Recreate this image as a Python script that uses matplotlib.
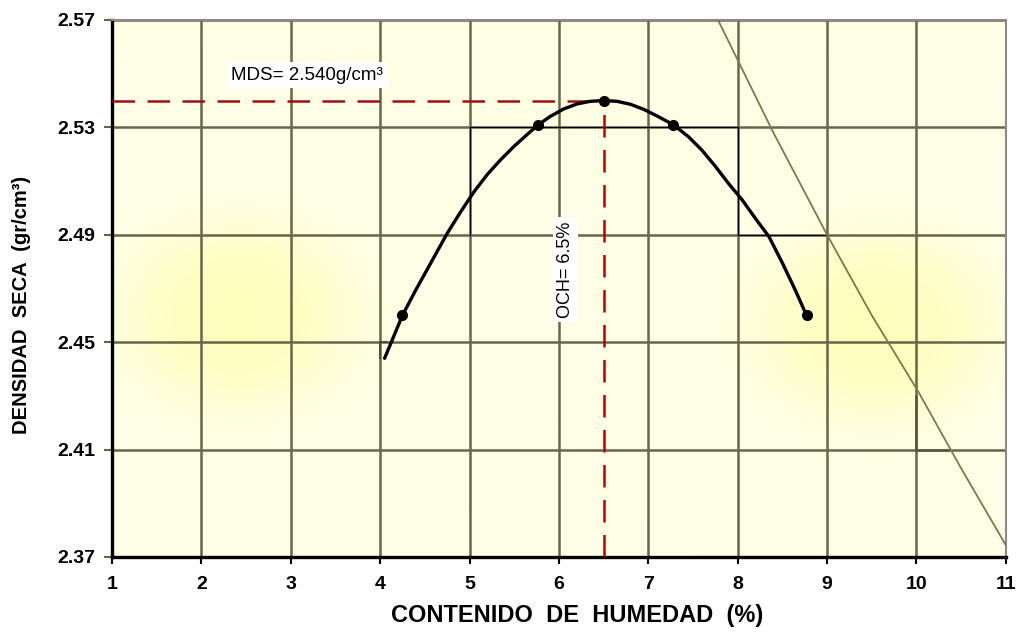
import matplotlib
matplotlib.use("Agg")
import matplotlib.pyplot as plt
import numpy as np

plt.rcParams['font.family'] = ['Liberation Sans', 'DejaVu Sans']

# proctor test points (moisture %, dry density)
humedad = [4.25, 5.77, 6.5, 7.28, 8.77]
densidad = [2.460, 2.531, 2.540, 2.531, 2.460]

# traced compaction curve
curva_x = [4.05, 4.15, 4.25, 4.40, 4.55, 4.75, 4.90, 5.05, 5.20, 5.35, 5.50, 5.65, 5.77,
           5.90, 6.05, 6.20, 6.35, 6.5, 6.65, 6.80, 6.95, 7.10, 7.28, 7.45, 7.60, 7.75,
           7.90, 8.05, 8.20, 8.35, 8.50, 8.65, 8.77]
curva_y = [2.444, 2.452, 2.460, 2.4695, 2.4785, 2.4905, 2.4985, 2.5060, 2.5125, 2.5180,
           2.5230, 2.5275, 2.531, 2.5340, 2.5368, 2.5387, 2.5397, 2.540, 2.5397, 2.5386,
           2.5367, 2.5342, 2.531, 2.5265, 2.5215, 2.5155, 2.5090, 2.5030, 2.4960, 2.4893,
           2.4795, 2.4690, 2.460]

# zero air voids line
saturacion_x = [7.78, 8.40, 9.00, 9.50, 10.02, 10.50, 11.00]
saturacion_y = [2.570, 2.528, 2.490, 2.460, 2.4316, 2.403, 2.3744]

mds = 2.540
och = 6.5

x_ticks = [1, 2, 3, 4, 5, 6, 7, 8, 9, 10, 11]
y_ticks = [2.37, 2.41, 2.45, 2.49, 2.53, 2.57]

fig = plt.figure(figsize=(10.16, 6.32), dpi=100)
ax = fig.add_axes([0.1102, 0.1187, 0.8798, 0.8497])
ax.set_xlim(1, 11)
ax.set_ylim(2.37, 2.57)

# cream background with two soft yellow glows
gx, gy = np.meshgrid(np.linspace(1, 11, 400), np.linspace(2.37, 2.57, 200))
glow = np.exp(-((((gx - 2.4) / 1.25) ** 2 + ((gy - 2.460) / 0.034) ** 2) ** 1.6))
glow += np.exp(-((((gx - 9.55) / 1.3) ** 2 + ((gy - 2.456) / 0.034) ** 2) ** 1.6))
glow = np.clip(glow, 0, 1)
base = np.array([1.0, 1.0, 0.905])
hot = np.array([0.995, 0.995, 0.74])
img = base[None, None, :] * (1 - glow[..., None]) + hot[None, None, :] * glow[..., None]
ax.imshow(img, extent=[1, 11, 2.37, 2.57], origin='lower', aspect='auto', zorder=0)

grid_col = '#66664a'
for xv in x_ticks:
    ax.axvline(xv, color=grid_col, lw=1.8, zorder=1)
for yv in y_ticks:
    ax.axhline(yv, color=grid_col, lw=1.8, zorder=1)

# thin construction lines left over in the original sheet
ax.plot([5, 8], [2.53, 2.53], color='black', lw=0.8, zorder=2)
ax.plot([5, 5], [2.49, 2.53], color='black', lw=0.8, zorder=2)
ax.plot([8, 8], [2.49, 2.53], color='black', lw=0.8, zorder=2)
ax.plot([8, 9], [2.49, 2.49], color='black', lw=0.8, zorder=2)
ax.plot([4, 4, 4.08], [2.444, 2.45, 2.45], color='#444433', lw=1.2, zorder=2)
ax.plot([10, 10], [2.41, 2.43], color='#55553a', lw=1.8, zorder=2)
ax.plot([10, 10.35], [2.41, 2.41], color='#55553a', lw=1.8, zorder=2)

# saturation line
ax.plot(saturacion_x, saturacion_y, color='#7a7a4a', lw=1.3, zorder=3)

# MDS / OCH guide lines
ax.plot([1, och], [mds, mds], color='#a01010', lw=1.8, ls=(0, (9, 5)), zorder=3)
ax.plot([och, och], [2.37, mds], color='#c00000', lw=1.8, ls=(0, (9, 5)), zorder=3)

ax.plot(curva_x, curva_y, color='black', lw=2.4, zorder=4,
        solid_capstyle='round', solid_joinstyle='round')
ax.plot(humedad, densidad, 'o', color='black', ms=7, zorder=5)

ax.text(3.18, 2.5495, 'MDS= 2.540g/cm³', fontsize=13.5, ha='center', va='center',
        bbox=dict(facecolor='white', edgecolor='none', pad=3), zorder=6)
ax.text(6.07, 2.477, 'OCH= 6.5%', fontsize=13, ha='center', va='center', rotation=90,
        bbox=dict(facecolor='white', edgecolor='none', pad=3), zorder=6)

ax.set_xticks(x_ticks)
ax.set_yticks(y_ticks)
ax.set_xticklabels([str(v) for v in x_ticks], fontsize=14, fontweight='bold')
ax.set_yticklabels(['%.2f' % v for v in y_ticks], fontsize=14, fontweight='bold')
ax.tick_params(axis='x', direction='out', length=5, width=1.5, color='black', pad=9)
ax.tick_params(axis='y', direction='out', length=6, width=1.5, color=grid_col, pad=6)

ax.spines['left'].set_color('black')
ax.spines['left'].set_linewidth(2.4)
ax.spines['bottom'].set_color('black')
ax.spines['bottom'].set_linewidth(2.4)
ax.spines['top'].set_color('#8a8a8a')
ax.spines['top'].set_linewidth(1.5)
ax.spines['right'].set_color('#8a8a8a')
ax.spines['right'].set_linewidth(1.5)

ax.set_xlabel('CONTENIDO  DE  HUMEDAD  (%)', fontsize=17, fontweight='bold')
ax.set_ylabel('DENSIDAD  SECA  (gr/cm³)', fontsize=14.5, fontweight='bold')
ax.xaxis.set_label_coords(0.520, -0.088)
ax.yaxis.set_label_coords(-0.091, 0.469)

fig.savefig('out.png', dpi=100)
